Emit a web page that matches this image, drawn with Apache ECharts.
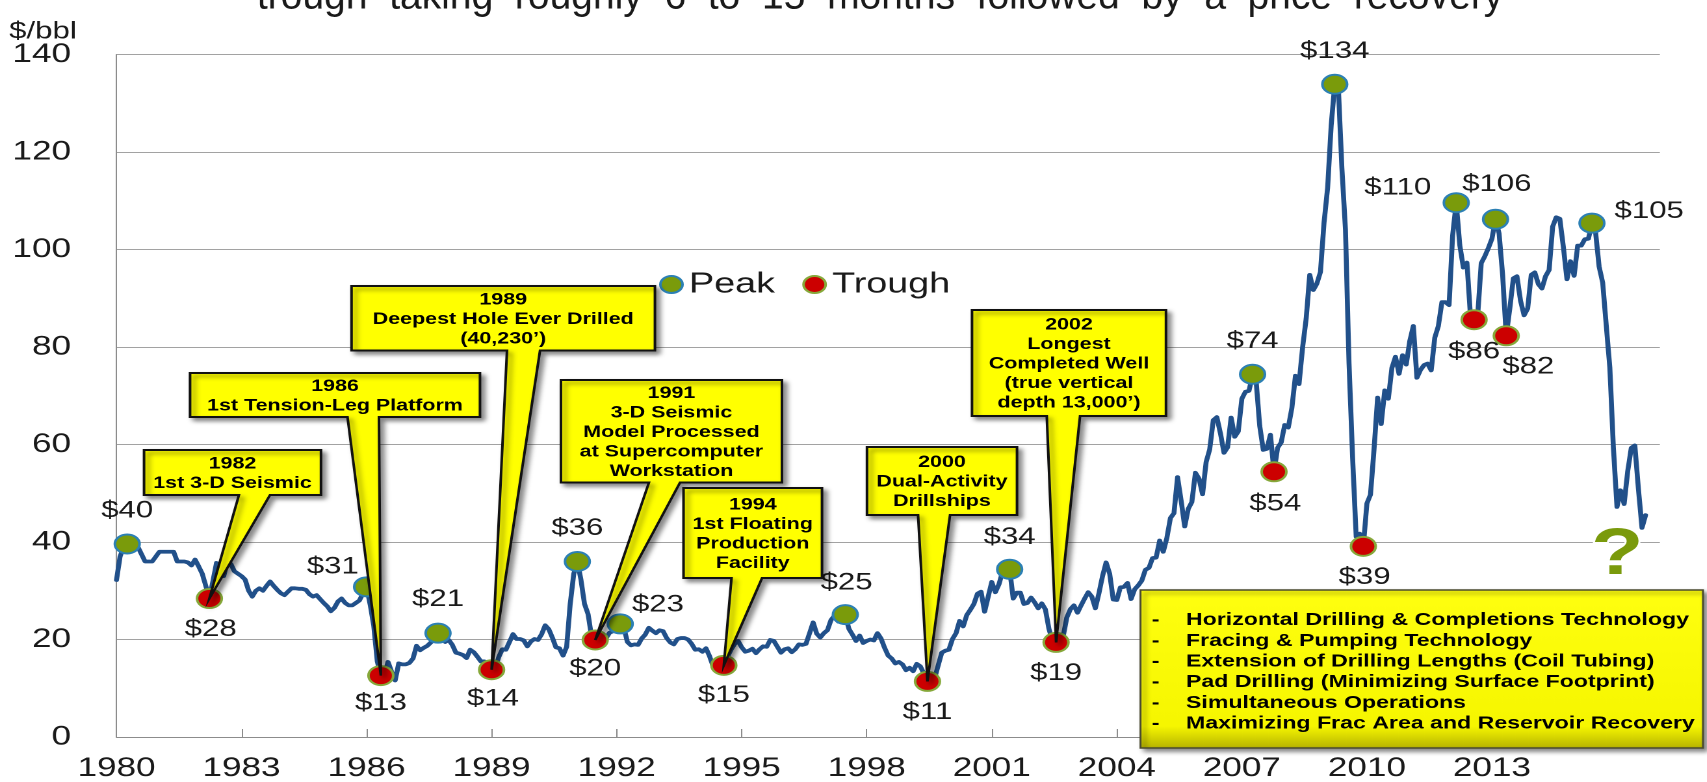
<!DOCTYPE html>
<html>
<head>
<meta charset="utf-8">
<title>Oil price peaks and troughs</title>
<script src="https://cdn.jsdelivr.net/npm/echarts@6/dist/echarts.min.js"></script>
<style>
  html, body { margin: 0; padding: 0; background: #ffffff; overflow: hidden; }
  #wrap { width: 1707px; height: 782px; overflow: hidden; position: relative; }
  /* the chart is laid out narrower and stretched horizontally on screen */
  #chart { width: 1313px; height: 782px; transform: scaleX(1.3); transform-origin: 0 0; }
</style>
</head>
<body>
<div id="wrap"><div id="chart"></div></div>
<script>
// ---- data -------------------------------------------------------------
const startYear = 1980;
const monthCount = 433;              // Jan 1980 .. Jan 2016 on the axis
const tickEvery = 35;                // months between axis labels
const tickLabels = ['1980', '1983', '1986', '1989', '1992', '1995', '1998', '2001', '2004', '2007', '2010', '2013'];

// monthly crude price, $/bbl
const price1980s = [
  32.2, 37.0, 39.0, 39.6, 39.5, 39.3, 39.0, 37.5, 36.0, 36.0, 36.0, 37.0,
  38.0, 38.0, 38.0, 38.0, 38.0, 36.0, 36.0, 36.0, 35.8, 35.2, 36.4, 35.0,
  33.5, 31.0, 28.4, 32.0, 35.7, 34.5, 33.0, 35.8, 35.5, 34.0, 33.5, 33.0,
  32.3, 30.0, 28.8, 30.0, 30.5, 30.0, 31.0, 31.9, 31.0, 30.2, 29.5, 29.1,
  29.8, 30.5, 30.5, 30.4, 30.4, 30.2, 29.3, 28.8, 29.1, 28.3, 27.5, 26.8,
  25.8, 26.5, 27.8, 28.4, 27.5, 27.0, 27.0, 27.5, 28.0, 29.5, 30.8, 27.2,
  22.9, 15.5, 12.6, 12.8, 15.4, 13.4, 11.6, 15.1, 14.9, 14.9, 15.2, 16.1,
  18.7, 17.8, 18.3, 18.7, 19.4, 20.1, 21.3, 20.3, 19.5, 19.9, 18.9, 17.3,
  17.1, 16.8, 16.2, 17.9, 17.4, 16.5, 15.5, 15.5, 14.5, 13.8, 14.1, 16.4,
  18.0, 17.9, 19.5, 21.1, 20.1, 20.1, 19.8, 18.6, 19.6, 20.1, 19.9, 21.1
];
const price1990s = [
  22.9, 22.1, 20.4, 18.4, 18.2, 16.7, 18.5, 27.3, 33.5, 36.0, 32.3, 27.3,
  25.2, 20.5, 19.9, 20.8, 21.2, 20.2, 21.4, 21.7, 21.9, 23.2, 22.5, 19.5,
  18.8, 19.0, 18.9, 20.2, 21.0, 22.4, 21.8, 21.3, 21.9, 21.7, 20.3, 19.4,
  19.0, 20.1, 20.3, 20.3, 20.0, 19.1, 17.9, 18.0, 17.5, 18.2, 16.6, 14.5,
  15.0, 14.8, 14.7, 16.4, 17.9, 19.1, 19.7, 18.4, 17.5, 17.7, 18.1, 17.2,
  18.0, 18.6, 18.5, 19.9, 19.7, 18.5, 17.3, 18.0, 18.2, 17.4, 18.0, 19.0,
  18.9, 19.1, 21.3, 23.5, 21.2, 20.4, 21.3, 21.9, 24.0, 24.9, 23.7, 25.2,
  25.1, 22.2, 21.0, 19.7, 20.8, 19.3, 19.7, 20.0, 19.8, 21.3, 20.2, 18.3,
  16.7, 16.1, 15.1, 15.4, 14.9, 13.7, 14.2, 13.5, 15.0, 14.5, 13.0, 11.4,
  12.5, 12.0, 14.7, 17.3, 17.7, 17.9, 20.1, 21.3, 23.8, 22.7, 25.0, 26.1
];
const price2000s = [
  27.3, 29.4, 29.8, 25.7, 28.8, 31.8, 29.7, 31.3, 33.9, 33.1, 34.4, 28.4,
  29.6, 29.6, 27.3, 27.5, 28.6, 27.6, 26.4, 27.4, 26.2, 22.2, 19.6, 19.4,
  19.7, 20.7, 24.5, 26.2, 27.0, 25.5, 27.0, 28.4, 29.7, 28.8, 26.4, 29.5,
  33.0, 35.8, 33.5, 28.2, 28.1, 30.7, 30.8, 31.6, 28.3, 30.3, 31.1, 32.1,
  34.3, 34.7, 36.7, 36.8, 40.3, 38.0, 40.8, 44.9, 45.9, 53.3, 48.5, 43.2,
  46.8, 48.2, 54.2, 53.0, 49.8, 56.4, 59.0, 65.0, 65.6, 62.3, 58.3, 59.4,
  65.5, 61.6, 62.7, 69.4, 70.8, 71.0, 74.4, 73.0, 63.8, 58.9, 59.1, 62.0,
  54.4, 59.3, 60.4, 64.0, 63.5, 67.5, 74.1, 72.4, 79.9, 85.8, 94.8, 91.7,
  93.0, 95.4, 105.5, 112.6, 125.4, 133.9, 133.4, 116.7, 104.1, 76.6, 57.3, 41.1,
  41.7, 39.1, 47.9, 49.7, 59.0, 69.6, 64.2, 71.1, 69.4, 75.7, 78.0, 74.5
];
const price2010s = [
  78.3, 76.4, 81.2, 84.3, 73.7, 75.3, 76.3, 76.6, 75.2, 81.9, 84.3, 89.2,
  89.2, 88.6, 102.9, 109.6, 100.9, 96.3, 97.3, 86.3, 85.6, 86.3, 97.2, 98.6,
  100.3, 102.2, 106.2, 103.3, 94.7, 82.3, 87.9, 94.1, 94.5, 89.5, 86.5, 87.9,
  94.8, 95.3, 92.9, 92.0, 94.5, 95.8, 104.7, 106.6, 106.3, 100.5, 93.9, 97.6,
  94.6, 100.8, 100.8, 102.1, 102.2, 105.4, 103.6, 96.5, 93.2, 84.4, 75.8, 59.3,
  47.2, 50.6, 47.8, 54.5, 59.3, 59.8, 50.9, 42.9, 45.5
];

// month indices (from Jan 1980) of the marked turning points
const peakMonths   = [3, 70, 90, 129, 141, 204, 250, 318, 341, 375, 386, 413];
const troughMonths = [26, 74, 105, 134, 170, 227, 263, 324, 349, 380, 389];

const calloutTexts = [
  '1982\n1st 3-D Seismic',
  '1986\n1st Tension-Leg Platform',
  '1989\nDeepest Hole Ever Drilled\n(40,230\u2019)',
  '1991\n3-D Seismic\nModel Processed\nat Supercomputer\nWorkstation',
  '1994\n1st Floating\nProduction\nFacility',
  '2000\nDual-Activity\nDrillships',
  '2002\nLongest\nCompleted Well\n(true vertical\ndepth 13,000\u2019)'
];
const calloutTargets = [26, 74, 105, 134, 170, 227, 263];

const techItems = [
  'Horizontal Drilling & Completions Technology',
  'Fracing & Pumping Technology',
  'Extension of Drilling Lengths (Coil Tubing)',
  'Pad Drilling (Minimizing Surface Footprint)',
  'Simultaneous Operations',
  'Maximizing Frac Area and Reservoir Recovery'
];

const titleLine = 'trough  taking  roughly  6  to  15  months  followed  by  a  price  recovery';

// ---- layout -----------------------------------------------------------
const FONT = '"Liberation Sans", Arial, Helvetica, sans-serif';
const TEXT = '#1a1a1a';

// label offsets from each marker centre (x, y)
const peakLabelOffsets = [[0, -33], [-26, -20], [0, -34], [0, -33], [29, -19], [1, -32],
                          [0, -32], [0, -33], [0, -33], [-45, -15], [1, -35], [44, -12]];
const troughLabelOffsets = [[1, 31], [0, 28], [1, 29], [0, 29], [0, 30], [0, 31],
                            [0, 31], [1, 32], [1, 31], [0, 32], [17, 31]];

// callout boxes: position, size and the x-range where the pointer leaves the box
const calloutBoxes = [
  { x: 110.8, y: 450, w: 136.1, h: 45,    base: [183.8, 207.7] },
  { x: 146.2, y: 373, w: 223.0, h: 44,    base: [267.3, 291.5] },
  { x: 270.4, y: 286, w: 233.4, h: 64.5,  base: [390.0, 415.4] },
  { x: 431.5, y: 380, w: 170.0, h: 102.5, base: [499.2, 523.1] },
  { x: 525.8, y: 488, w: 106.5, h: 90,    base: [562.7, 586.2] },
  { x: 666.9, y: 447, w: 115.4, h: 68,    base: [706.2, 730.8] },
  { x: 747.7, y: 310, w: 149.2, h: 106,   base: [805.2, 830.8] }
];

// ---- build ------------------------------------------------------------
const prices = [].concat(price1980s, price1990s, price2000s, price2010s);

const months = [];
for (let i = 0; i < monthCount; i++) {
  const y = startYear + Math.floor(i / 12);
  const m = (i % 12) + 1;
  months.push(y + '-' + String(m).padStart(2, '0'));
}

function markerData(list, offsets) {
  return list.map((m, i) => ({ value: [m, prices[m]], label: { offset: offsets[i] } }));
}

const markerLabel = {
  show: true,
  position: 'inside',
  formatter: p => '$' + Math.round(p.value[1]),
  color: TEXT,
  fontSize: 24,
  fontFamily: FONT,
  textBorderWidth: 0
};

const chart = echarts.init(document.getElementById('chart'), null, { renderer: 'canvas', devicePixelRatio: 2 });

chart.setOption({
  animation: false,
  backgroundColor: '#ffffff',
  textStyle: { fontFamily: FONT },
  grid: { left: 89.6, right: 36.2, top: 54.5, bottom: 45, containLabel: false, outerBoundsMode: 'none' },
  legend: {
    data: ['Peak', 'Trough'],
    left: 502, top: 265,
    icon: 'circle',
    itemWidth: 17, itemHeight: 17, itemGap: 21,
    selectedMode: false,
    textStyle: { fontSize: 29, color: TEXT, fontFamily: FONT }
  },
  xAxis: {
    type: 'category',
    data: months,
    boundaryGap: false,
    axisLine: { lineStyle: { color: '#8c8c8c', width: 1 } },
    axisTick: { show: true, inside: true, length: 8, interval: tickEvery - 1, lineStyle: { color: '#8c8c8c' } },
    axisLabel: {
      interval: tickEvery - 1,
      formatter: (v, i) => (i % tickEvery === 0 && tickLabels[i / tickEvery]) ? tickLabels[i / tickEvery] : '',
      fontSize: 27, color: TEXT, margin: 18, fontFamily: FONT
    },
    splitLine: { show: false }
  },
  yAxis: {
    type: 'value',
    min: 0, max: 140, interval: 20,
    axisLine: { show: true, lineStyle: { color: '#8c8c8c', width: 1 } },
    axisTick: { show: false },
    axisLabel: { fontSize: 27, color: TEXT, margin: 35, fontFamily: FONT },
    splitLine: { lineStyle: { color: '#a2a2a2', width: 1 } }
  },
  series: [
    {
      type: 'line',
      name: 'Price',
      data: prices,
      symbol: 'none',
      showSymbol: false,
      silent: true,
      z: 2,
      lineStyle: { color: '#21508a', width: 3.8, join: 'round', cap: 'round' }
    },
    {
      type: 'scatter',
      name: 'Peak',
      data: markerData(peakMonths, peakLabelOffsets),
      symbol: 'circle',
      symbolSize: 19,
      z: 4,
      itemStyle: { color: '#7a9b0b', borderColor: '#2c80b4', borderWidth: 2, opacity: 1 },
      label: markerLabel
    },
    {
      type: 'scatter',
      name: 'Trough',
      data: markerData(troughMonths, troughLabelOffsets),
      symbol: 'circle',
      symbolSize: 19,
      z: 4,
      itemStyle: { color: '#cc0000', borderColor: '#86a83a', borderWidth: 2, opacity: 1 },
      label: markerLabel
    }
  ]
});

// ---- annotations drawn on top of the plot ----------------------------
const graphics = [];

// second line of the heading; its first line sits above the visible area
graphics.push({
  type: 'text', x: 677, y: -2.5, z: 30, scaleX: 0.75,
  style: { text: titleLine, fontSize: 40, fontFamily: FONT, fill: TEXT, align: 'center', verticalAlign: 'middle' }
});
graphics.push({
  type: 'text', x: 7, y: 32, z: 30,
  style: { text: '$/bbl', fontSize: 24, fontFamily: FONT, fill: TEXT, align: 'left', verticalAlign: 'middle' }
});

const shadow = { shadowBlur: 4, shadowOffsetX: 3, shadowOffsetY: 3, shadowColor: 'rgba(0,0,0,0.45)' };

calloutBoxes.forEach((b, i) => {
  const m = calloutTargets[i];
  const tip = chart.convertToPixel({ xAxisIndex: 0, yAxisIndex: 0 }, [m, prices[m]]);
  const bottom = b.y + b.h;
  graphics.push({
    type: 'polygon', z: 20,
    shape: { points: [[b.x, b.y], [b.x + b.w, b.y], [b.x + b.w, bottom], [b.base[1], bottom],
                      tip, [b.base[0], bottom], [b.x, bottom]] },
    style: Object.assign({ fill: '#ffff00', stroke: '#111111', lineWidth: 2 }, shadow)
  });
  graphics.push({
    type: 'text', z: 21, x: b.x + b.w / 2, y: b.y + b.h / 2 + 1,
    style: { text: calloutTexts[i], fontSize: 16.5, fontWeight: 'bold', fontFamily: FONT, fill: '#000000',
             align: 'center', verticalAlign: 'middle', lineHeight: 19.5 }
  });
});

// technology box
graphics.push({
  type: 'rect', z: 20,
  shape: { x: 877.3, y: 590, width: 432.7, height: 158 },
  style: Object.assign({
    fill: new echarts.graphic.LinearGradient(0, 0, 0, 1, [
      { offset: 0, color: '#ffff10' },
      { offset: 0.86, color: '#f6f600' },
      { offset: 1, color: '#b5b200' }
    ]),
    stroke: '#4a4a30', lineWidth: 1.5
  }, shadow)
});
graphics.push({
  type: 'text', z: 21, x: 886, y: 672,
  style: { text: techItems.map(() => '-').join('\n'), fontSize: 17.8, fontWeight: 'bold', fontFamily: FONT,
           fill: '#000000', align: 'left', verticalAlign: 'middle', lineHeight: 20.7 }
});
graphics.push({
  type: 'text', z: 21, x: 912.3, y: 672,
  style: { text: techItems.join('\n'), fontSize: 17.8, fontWeight: 'bold', fontFamily: FONT,
           fill: '#000000', align: 'left', verticalAlign: 'middle', lineHeight: 20.7 }
});

// question mark after the latest decline
graphics.push({
  type: 'text', z: 22, x: 1244, y: 556,
  style: { text: '?', fontSize: 66, fontWeight: 'bold', fontFamily: FONT, fill: '#7a9a0c',
           stroke: '#ffffff', lineWidth: 3, align: 'center', verticalAlign: 'middle',
           shadowBlur: 4, shadowOffsetX: 2, shadowOffsetY: 2, shadowColor: 'rgba(0,0,0,0.35)' }
});

chart.setOption({ graphic: graphics });
</script>
</body>
</html>
